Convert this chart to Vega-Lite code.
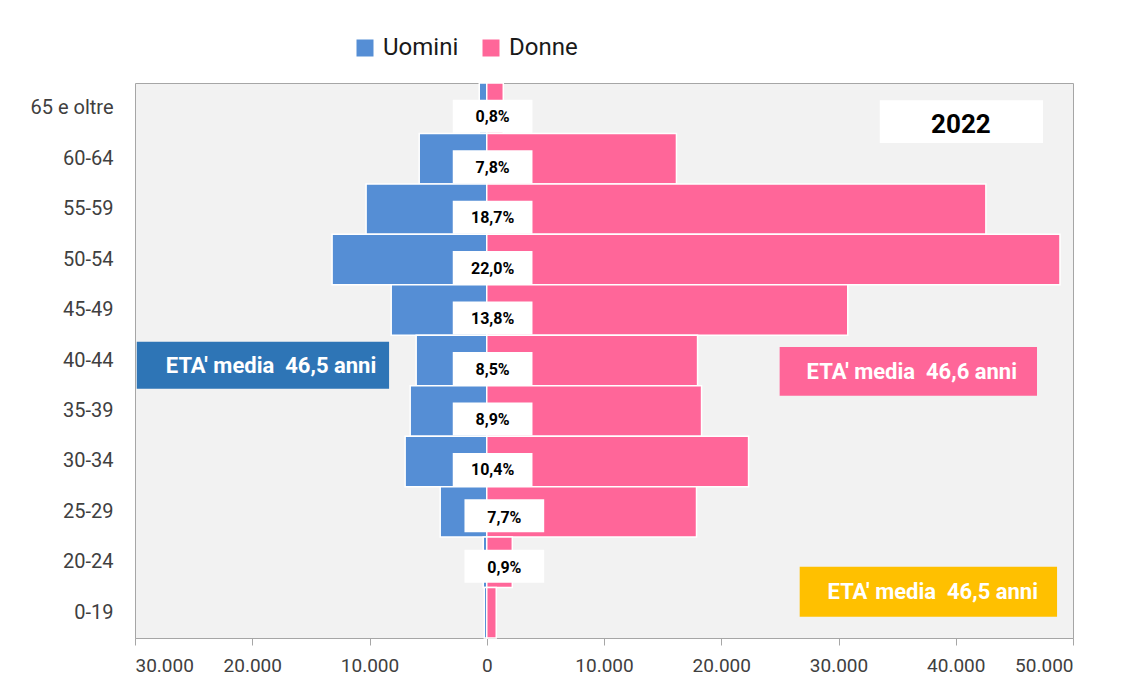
{
  "$schema": "https://vega.github.io/schema/vega-lite/v6.json",
  "width": 938,
  "height": 555,
  "autosize": {"type": "none"},
  "padding": {"left": 135, "top": 83, "right": 60, "bottom": 59},
  "background": "white",
  "config": {
    "font": "Roboto",
    "view": {"fill": "#f2f2f2", "stroke": "#a6a6a6", "strokeWidth": 1}
  },
  "datasets": {
    "pop": [
      {"age": "65 e oltre", "sesso": "Uomini", "valore": -640},
      {"age": "60-64", "sesso": "Uomini", "valore": -5760},
      {"age": "55-59", "sesso": "Uomini", "valore": -10290},
      {"age": "50-54", "sesso": "Uomini", "valore": -13190},
      {"age": "45-49", "sesso": "Uomini", "valore": -8150},
      {"age": "40-44", "sesso": "Uomini", "valore": -6020},
      {"age": "35-39", "sesso": "Uomini", "valore": -6530},
      {"age": "30-34", "sesso": "Uomini", "valore": -6960},
      {"age": "25-29", "sesso": "Uomini", "valore": -3970},
      {"age": "20-24", "sesso": "Uomini", "valore": -300},
      {"age": "0-19", "sesso": "Uomini", "valore": -210},
      {"age": "65 e oltre", "sesso": "Donne", "valore": 1410},
      {"age": "60-64", "sesso": "Donne", "valore": 16180},
      {"age": "55-59", "sesso": "Donne", "valore": 42570},
      {"age": "50-54", "sesso": "Donne", "valore": 48890},
      {"age": "45-49", "sesso": "Donne", "valore": 30790},
      {"age": "40-44", "sesso": "Donne", "valore": 17980},
      {"age": "35-39", "sesso": "Donne", "valore": 18320},
      {"age": "30-34", "sesso": "Donne", "valore": 22330},
      {"age": "25-29", "sesso": "Donne", "valore": 17890},
      {"age": "20-24", "sesso": "Donne", "valore": 2180},
      {"age": "0-19", "sesso": "Donne", "valore": 810}
    ],
    "pct": [
      {"age": "65 e oltre", "quota": "0,8%"},
      {"age": "60-64", "quota": "7,8%"},
      {"age": "55-59", "quota": "18,7%"},
      {"age": "50-54", "quota": "22,0%"},
      {"age": "45-49", "quota": "13,8%"},
      {"age": "40-44", "quota": "8,5%"},
      {"age": "35-39", "quota": "8,9%"},
      {"age": "30-34", "quota": "10,4%"}
    ],
    "pct2": [
      {"age": "25-29", "quota": "7,7%"},
      {"age": "20-24", "quota": "0,9%"}
    ],
    "note": [{"n": 1}]
  },
  "layer": [
    {
      "encoding": {
        "y": {
          "field": "age",
          "type": "nominal",
          "sort": ["65 e oltre", "60-64", "55-59", "50-54", "45-49", "40-44", "35-39", "30-34", "25-29", "20-24", "0-19"],
          "scale": {"domain": ["65 e oltre", "60-64", "55-59", "50-54", "45-49", "40-44", "35-39", "30-34", "25-29", "20-24", "0-19"], "paddingInner": 0, "paddingOuter": 0},
          "axis": {"title": null, "domain": false, "ticks": false, "labelFontSize": 20, "labelColor": "#404040", "labelPadding": 22}
        }
      },
      "layer": [
        {
          "data": {"name": "pop"},
          "mark": {"type": "bar", "stroke": "white", "strokeWidth": 1.5},
          "encoding": {
            "x": {
              "field": "valore",
              "type": "quantitative",
              "scale": {"domain": [-30000, 50000], "nice": false},
              "axis": {
                "title": null,
                "values": [-30000, -20000, -10000, 0, 10000, 20000, 30000, 40000, 50000],
                "labelExpr": "replace(format(abs(datum.value), ','), ',', '.')",
                "grid": false,
                "domainColor": "#a6a6a6",
                "tickColor": "#a6a6a6",
                "tickSize": 7,
                "labelFontSize": 19,
                "labelColor": "#404040",
                "labelPadding": 11
              }
            },
            "color": {
              "field": "sesso",
              "type": "nominal",
              "scale": {"domain": ["Uomini", "Donne"], "range": ["#558ED5", "#FF6699"]},
              "legend": {
                "title": null,
                "orient": "none",
                "legendX": 218,
                "legendY": -47,
                "direction": "horizontal",
                "symbolType": "square",
                "symbolSize": 289,
                "symbolStrokeWidth": 0,
                "labelFontSize": 24,
                "labelColor": "#1a1a1a",
                "labelOffset": 6,
                "columnPadding": 20
              }
            }
          }
        },
        {
          "data": {"name": "pct"},
          "mark": {"type": "bar", "fill": "white", "height": 33, "yOffset": 8},
          "encoding": {
            "x": {"datum": -2900, "type": "quantitative"},
            "x2": {"datum": 3900}
          }
        },
        {
          "data": {"name": "pct"},
          "mark": {"type": "text", "fontSize": 16, "fontWeight": "bold", "color": "#000000", "yOffset": 9, "align": "center", "baseline": "middle"},
          "encoding": {
            "x": {"datum": 500, "type": "quantitative"},
            "text": {"field": "quota"}
          }
        },
        {
          "data": {"name": "pct2"},
          "mark": {"type": "bar", "fill": "white", "height": 33, "yOffset": 4},
          "encoding": {
            "x": {"datum": -1900, "type": "quantitative"},
            "x2": {"datum": 4900}
          }
        },
        {
          "data": {"name": "pct2"},
          "mark": {"type": "text", "fontSize": 16, "fontWeight": "bold", "color": "#000000", "yOffset": 6, "align": "center", "baseline": "middle"},
          "encoding": {
            "x": {"datum": 1500, "type": "quantitative"},
            "text": {"field": "quota"}
          }
        }
      ]
    },
    {
      "data": {"name": "note"},
      "encoding": {},
      "layer": [
        {
          "mark": {"type": "rect", "fill": "#2E75B6"},
          "encoding": {
            "x": {"datum": -29850, "type": "quantitative"},
            "x2": {"datum": -8330},
            "y": {"datum": 4.94, "type": "quantitative", "scale": {"domain": [0, 11], "nice": false, "zero": false}, "axis": null},
            "y2": {"datum": 5.87}
          }
        },
        {
          "mark": {"type": "text", "text": "ETA' media \u00a046,5 anni", "fontSize": 22, "fontWeight": "bold", "color": "white", "align": "center", "baseline": "middle"},
          "encoding": {
            "x": {"datum": -18400, "type": "quantitative"},
            "y": {"datum": 5.40, "type": "quantitative", "scale": {"domain": [0, 11], "nice": false, "zero": false}, "axis": null}
          }
        },
        {
          "mark": {"type": "rect", "fill": "#FF6699"},
          "encoding": {
            "x": {"datum": 24980, "type": "quantitative"},
            "x2": {"datum": 46930},
            "y": {"datum": 4.80, "type": "quantitative", "scale": {"domain": [0, 11], "nice": false, "zero": false}, "axis": null},
            "y2": {"datum": 5.77}
          }
        },
        {
          "mark": {"type": "text", "text": "ETA' media \u00a046,6 anni", "fontSize": 22, "fontWeight": "bold", "color": "white", "align": "center", "baseline": "middle"},
          "encoding": {
            "x": {"datum": 36250, "type": "quantitative"},
            "y": {"datum": 5.28, "type": "quantitative", "scale": {"domain": [0, 11], "nice": false, "zero": false}, "axis": null}
          }
        },
        {
          "mark": {"type": "rect", "fill": "#FFC000"},
          "encoding": {
            "x": {"datum": 26690, "type": "quantitative"},
            "x2": {"datum": 48640},
            "y": {"datum": 0.42, "type": "quantitative", "scale": {"domain": [0, 11], "nice": false, "zero": false}, "axis": null},
            "y2": {"datum": 1.41}
          }
        },
        {
          "mark": {"type": "text", "text": "ETA' media \u00a046,5 anni", "fontSize": 22, "fontWeight": "bold", "color": "white", "align": "center", "baseline": "middle"},
          "encoding": {
            "x": {"datum": 38040, "type": "quantitative"},
            "y": {"datum": 0.91, "type": "quantitative", "scale": {"domain": [0, 11], "nice": false, "zero": false}, "axis": null}
          }
        },
        {
          "mark": {"type": "rect", "fill": "white"},
          "encoding": {
            "x": {"datum": 33520, "type": "quantitative"},
            "x2": {"datum": 47440},
            "y": {"datum": 9.81, "type": "quantitative", "scale": {"domain": [0, 11], "nice": false, "zero": false}, "axis": null},
            "y2": {"datum": 10.66}
          }
        },
        {
          "mark": {"type": "text", "text": "2022", "fontSize": 26, "fontWeight": "bold", "color": "black", "align": "center", "baseline": "middle"},
          "encoding": {
            "x": {"datum": 40440, "type": "quantitative"},
            "y": {"datum": 10.17, "type": "quantitative", "scale": {"domain": [0, 11], "nice": false, "zero": false}, "axis": null}
          }
        }
      ]
    }
  ],
  "resolve": {"scale": {"y": "independent"}}
}
